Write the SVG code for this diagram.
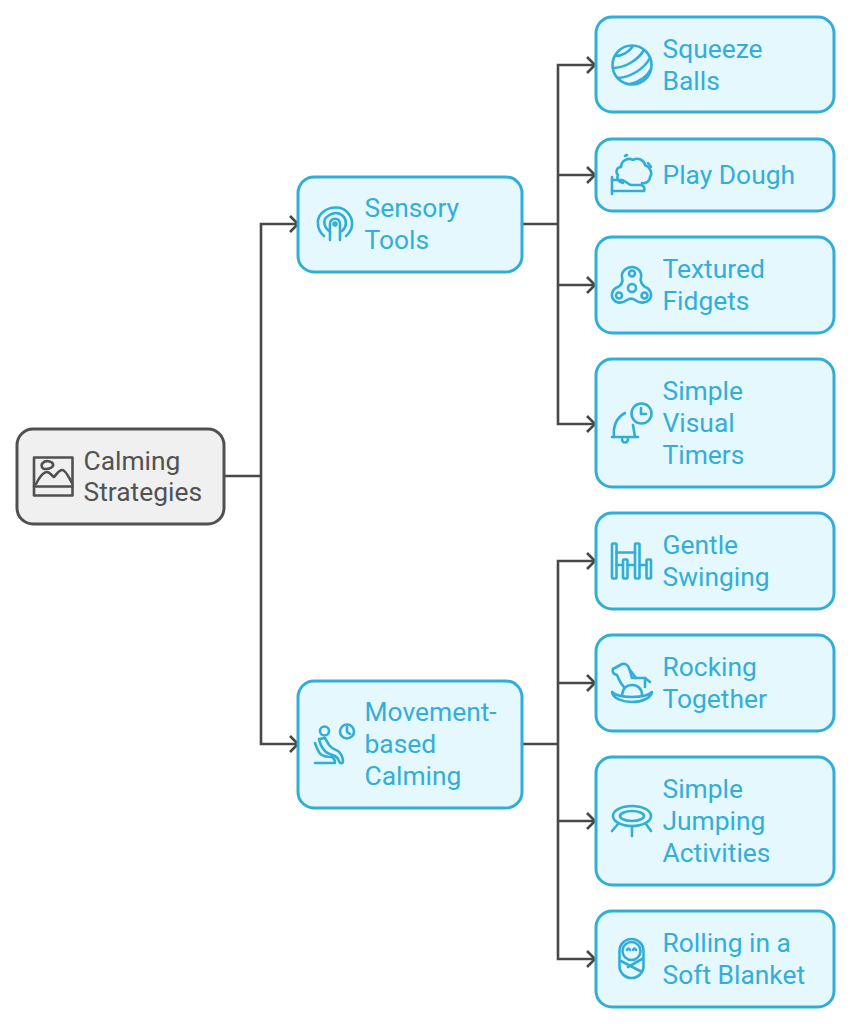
<svg xmlns="http://www.w3.org/2000/svg" width="852" height="1024" viewBox="0 0 852 1024">
<style>
.box{fill:#e4f8fe;stroke:#32aed6;stroke-width:3}
.root{fill:#f0f0f0;stroke:#505050;stroke-width:3}
.t{font-family:Roboto,"Liberation Sans",sans-serif;font-size:26.4px;fill:#34aed6}
.rt{fill:#525252}
.i{fill:none;stroke:#32aed6;stroke-width:2.6;stroke-linecap:round;stroke-linejoin:round}
.ir{stroke:#505050}
.c{fill:none;stroke:#484848;stroke-width:2.6}
.a{fill:none;stroke:#484848;stroke-width:2.6;stroke-linejoin:miter}
</style>
<defs>
<path id="head" class="a" d="M-8,-8 L0,0 L-8,8"/>
</defs>
<g id="connectors">
<path class="c" d="M225,476H261M298,224H261V744H298"/>
<path class="c" d="M522,224H558M596,65H558V424H596M558,175H596M558,285H596"/>
<path class="c" d="M522,744H558M596,561H558V959H596M558,683H596M558,821H596"/>
<use href="#head" x="298" y="224"/>
<use href="#head" x="298" y="744"/>
<use href="#head" x="595" y="65"/>
<use href="#head" x="595" y="175"/>
<use href="#head" x="595" y="285"/>
<use href="#head" x="595" y="424"/>
<use href="#head" x="595" y="561"/>
<use href="#head" x="595" y="683"/>
<use href="#head" x="595" y="821"/>
<use href="#head" x="595" y="959"/>
</g>
<g id="calming-strategies">
<rect class="root" x="17" y="429" width="207" height="95" rx="16"/>
<g class="i ir">
<rect x="34" y="457.500" width="38.500" height="38"/>
<path d="M34,486.500H72.500"/>
<path d="M36,484C40,476 44,472 47,472C50,472 52,476 54,477C57,474 59,470 62,470C66,470 69,478 72,483"/>
<path d="M45,469C41,469 41,464 43,463C45,460 52,461 53,464C54,467 50,469 45,469Z"/>
</g>
<text class="t rt"><tspan x="83.500" y="470">Calming</tspan><tspan x="83.500" y="501">Strategies</tspan></text>
</g>
<g id="sensory-tools">
<rect class="box" x="298" y="177" width="224" height="95" rx="16"/>
<g class="i">
<path d="M324,236C316,229 316,217 323,212C330,206 342,206 347,212C354,219 354,229 346,236"/>
<path d="M329,231C323,226 323,219 328,216C333,212 339,212 343,216C347,220 347,227 342,231"/>
<path d="M330,240V224C330,217 340,217 340,224V240"/>
<circle cx="335" cy="224" r="1.500"/>
</g>
<text class="t"><tspan x="364.500" y="217">Sensory</tspan><tspan x="364.500" y="249">Tools</tspan></text>
</g>
<g id="movement-based-calming">
<rect class="box" x="298" y="681" width="224" height="127" rx="16"/>
<g class="i">
<circle cx="324.500" cy="731" r="4.500"/>
<circle cx="347" cy="731.500" r="7"/>
<path d="M347,727V732L350,734"/>
<path d="M315,763H333"/>
<path d="M319,739L325,738L329,745C332,749 336,750 338,751C341,753 343,758 343,761C343,764 340,764 339,761C338,758 337,757 335,756C331,754 327,754 325,751C322,748 320,744 319,739Z"/>
<path d="M315,743C317,749 319,754 322,755C325,757 329,757 332,757C334,758 335,760 335,763"/>
</g>
<text class="t"><tspan x="364.500" y="721">Movement-</tspan><tspan x="364.500" y="753">based</tspan><tspan x="364.500" y="785">Calming</tspan></text>
</g>
<g id="squeeze-balls">
<rect class="box" x="596" y="17" width="238" height="95" rx="16"/>
<g class="i">
<circle cx="632" cy="65" r="19.500"/>
<path d="M615,56C622,56 629,52 633,46"/>
<path d="M613,68C625,68 638,60 644,50"/>
<path d="M618,78C631,77 644,69 650,58"/>
<path d="M630,84C638,82 647,77 651,69"/>
</g>
<text class="t"><tspan x="662.500" y="58">Squeeze</tspan><tspan x="662.500" y="90">Balls</tspan></text>
</g>
<g id="play-dough">
<rect class="box" x="596" y="139" width="238" height="72" rx="16"/>
<g class="i">
<path d="M612,177V194"/>
<path d="M612,180H622C626,181 628,185 632,185H641C644,186 645,188 644,191H612"/>
<path d="M623,183C619,182 616,179 618,175C615,172 617,167 621,167C621,161 628,157 633,160C638,157 644,160 645,165C650,167 653,173 650,177C650,181 646,184 642,183"/>
<path d="M625,156L627,155M648,163L651,167"/>
</g>
<text class="t"><tspan x="662.500" y="184">Play Dough</tspan></text>
</g>
<g id="textured-fidgets">
<rect class="box" x="596" y="237" width="238" height="96" rx="16"/>
<g class="i">
<path d="M632,267C638,267 642,272 641,277C640,281 641,284 645,287C651,289 653,296 649,300C645,304 639,303 635,300C632,298 630,298 627,300C623,303 617,304 614,300C610,296 612,289 618,287C622,285 623,281 622,277C621,272 626,267 632,267Z"/>
<circle cx="632" cy="273.500" r="3"/>
<circle cx="632" cy="288" r="4"/>
<circle cx="619" cy="295.500" r="3"/>
<circle cx="644.500" cy="295.500" r="3"/>
</g>
<text class="t"><tspan x="662.500" y="278">Textured</tspan><tspan x="662.500" y="310">Fidgets</tspan></text>
</g>
<g id="simple-visual-timers">
<rect class="box" x="596" y="359" width="238" height="128" rx="16"/>
<g class="i">
<circle cx="641.500" cy="413.500" r="10"/>
<path d="M641,408V414H646"/>
<path d="M612,437H638"/>
<path d="M614,437C613,427 616,418 625,413"/>
<path d="M633,425L635,437"/>
<path d="M622,438C622,444 628,444 628,438"/>
</g>
<text class="t"><tspan x="662.500" y="400">Simple</tspan><tspan x="662.500" y="432">Visual</tspan><tspan x="662.500" y="464">Timers</tspan></text>
</g>
<g id="gentle-swinging">
<rect class="box" x="596" y="513" width="238" height="96" rx="16"/>
<g class="i">
<rect x="612" y="543.500" width="4.500" height="35" rx="1"/>
<rect x="635" y="543.500" width="4.500" height="35" rx="1"/>
<rect x="623" y="559.500" width="4.500" height="19" rx="1"/>
<rect x="646.500" y="559.500" width="4.500" height="19" rx="1"/>
<path d="M616.500,552.500H635M616.500,565H623M627.500,565H635M639.500,565H646.500"/>
</g>
<text class="t"><tspan x="662.500" y="554">Gentle</tspan><tspan x="662.500" y="586">Swinging</tspan></text>
</g>
<g id="rocking-together">
<rect class="box" x="596" y="635" width="238" height="96" rx="16"/>
<g class="i">
<path d="M612,692C613,699 624,702 632,702C642,702 651,698 652,692C648,696 640,697 632,697C624,697 616,696 612,692Z"/>
<path d="M613,669L622,664C625,663 628,665 629,668L632,678H645L650,682"/>
<path d="M613,669C612,672 613,674 617,675C619,680 621,684 624,687"/>
<path d="M645,678V687"/>
<path d="M622,695C623,687 628,685 632,685C638,685 642,689 642,695"/>
<path d="M630,670L636,678"/>
</g>
<text class="t"><tspan x="662.500" y="676">Rocking</tspan><tspan x="662.500" y="708">Together</tspan></text>
</g>
<g id="simple-jumping-activities">
<rect class="box" x="596" y="757" width="238" height="128" rx="16"/>
<g class="i">
<ellipse cx="632" cy="816" rx="19" ry="10"/>
<ellipse cx="632" cy="816" rx="12" ry="5"/>
<path d="M618,824L612,831M646,824L651,831M632,827V836"/>
</g>
<text class="t"><tspan x="662.500" y="798">Simple</tspan><tspan x="662.500" y="830">Jumping</tspan><tspan x="662.500" y="862">Activities</tspan></text>
</g>
<g id="rolling-in-a-soft-blanket">
<rect class="box" x="596" y="911" width="238" height="96" rx="16"/>
<g class="i">
<rect x="619.500" y="939" width="24" height="39" rx="12"/>
<circle cx="631.500" cy="951" r="9"/>
<path d="M627,950C628,948 629,948 630,950M633,950C634,948 635,948 636,950"/>
<path d="M621,961L642,972M642,959L628,967"/>
</g>
<text class="t"><tspan x="662.500" y="952">Rolling in a</tspan><tspan x="662.500" y="984">Soft Blanket</tspan></text>
</g>
</svg>
